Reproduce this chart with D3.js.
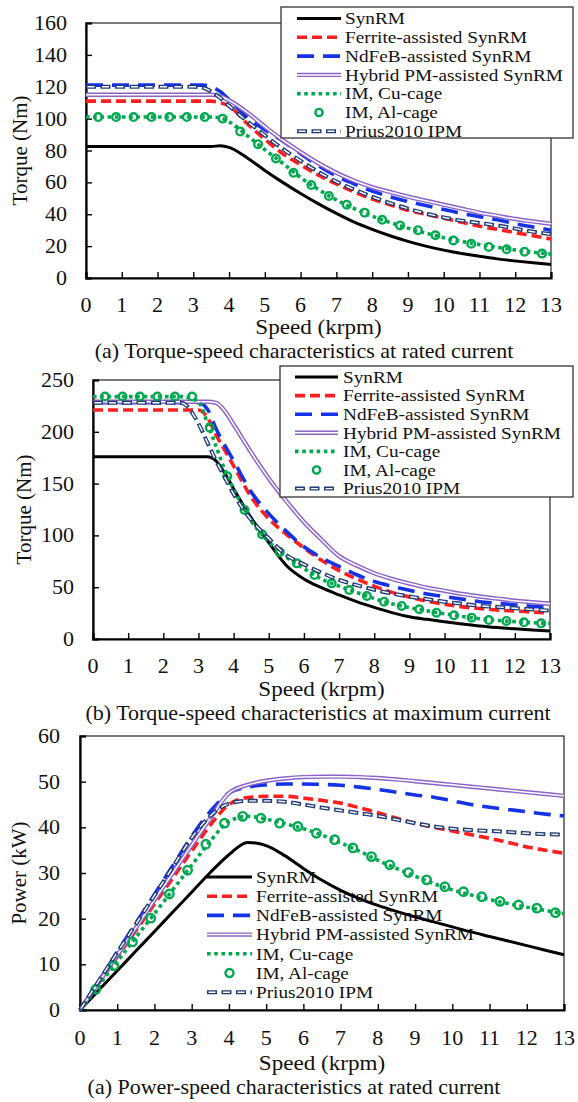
<!DOCTYPE html>
<html>
<head>
<meta charset="utf-8">
<script src="https://cdn.jsdelivr.net/npm/d3@7/dist/d3.min.js"></script>
<style>
  html, body { margin: 0; padding: 0; background: #fff; }
  svg { display: block; }
</style>
</head>
<body>
<svg id="fig" width="578" height="1102" font-family="'Liberation Serif', 'Times New Roman', serif"></svg>
<script>
// ---- data -------------------------------------------------------------
const seriesNames = ["SynRM", "Ferrite-assisted SynRM", "NdFeB-assisted SynRM",
  "Hybrid PM-assisted SynRM", "IM, Cu-cage", "IM, Al-cage", "Prius2010 IPM"];

const speedTicks = [0,1,2,3,4,5,6,7,8,9,10,11,12,13];

// speed grid (krpm) used by the torque curves
const speedT = [0,0.5,1,1.5,2,2.5,3,3.25,3.5,3.75,4,4.5,5,5.5,6,6.5,7,7.5,8,8.5,9,9.5,10,10.5,11,11.5,12,12.5,13];

// torque at rated current (Nm)
const ratedSynRM   = [82.5,82.5,82.5,82.5,82.5,82.5,82.5,82.5,82.5,83,82,75.5,67.5,60,53,46.5,40.5,35,30.5,26.5,23,20,17.5,15.4,13.6,12,10.7,9.5,8.5];
const ratedFerrite = [111,111,111,111,111,111,111,111,111,110,108,97,87,78,71,64.5,59,54,49.5,46,42.5,40,37.5,35,32.5,30.5,28.5,26.5,24.5];
const ratedNdFeB   = [121,121,121,121,121,121,121,121,120,117,112,101,93,86,78,70.5,64,59,54.5,51,48,45.5,43,40.5,38.5,36.5,34,32,30];
const ratedHybrid  = [115,115,115,115,115,115,115,115,115,114,111.5,104,95,86.5,79,72,66,61,57,54,51,48.5,46,43.5,41,39,37,35.5,34];
const ratedCu      = [101,101,101,101,101,101,101,101,101,100.5,98,89.5,80.5,72,63,55.5,49,43.5,38.8,34.8,31.3,28.2,25.3,23,21,19.3,17.6,16.2,15];
const ratedPrius   = [120,120,120,120,120,120,120,119.5,117,113,108,98.5,89.5,81,73.5,66.5,60.5,55.5,51,47,43.5,40.5,38,36,34.5,33,31,29,27.5];
// IM Al-cage points (speed, torque)
const alSpeedT   = [0.34,0.84,1.33,1.83,2.33,2.82,3.32,3.82,4.31,4.81,5.31,5.8,6.3,6.79,7.29,7.79,8.28,8.78,9.28,9.77,10.27,10.77,11.26,11.76,12.26,12.75];
const ratedAl    = [101,101,101,101,101,101,101,100,92,84,75,66,58.3,51.5,46,41,36.5,33,30,26.8,23.6,21.5,19.5,18,16.5,15.3];

// torque at maximum current (Nm)
const maxSynRM   = [176,176,176,176,176,176,176,176,172,160,145,117,93,71,58,49.5,42.5,36,30.5,25.5,21.5,19,16.7,14.5,12.5,11,9.8,8.7,7.8];
const maxFerrite = [221,221,221,221,221,221,221,214,197,182,167,137,116,101,88,76,66,58,51,45,40.5,36.5,33.5,31,29.5,28,27,26,25];
const maxNdFeB   = [228,228,228,228,228,228,228,222,203,187,172,142,121,104,89,78.5,70,62,55.5,51,47,43.5,41,38.5,36,34.5,33,31.5,30.5];
const maxHybrid  = [229,229,229,229,229,229,229,229,228,220,207,180,155,133,113,96,80,71,63.5,58,53.5,49.5,46.5,43.5,41,39,37,35.5,34];
const maxCu      = [234,234,234,234,234,234,229,209,186,163,145,114,94,79,68,58,51,45,39,34,30.3,27.2,24.3,21.8,19.6,18,16.8,15.7,15];
const maxPrius   = [228,228,228,228,228,228,208,190,172,156,140,115,97,81,72,64,57,52,47.5,44,41,38.5,36,34,32,31,29.7,28.5,27.3];
const maxAl      = [234,234,234,234,234,234,204,157,124.5,101,84,73,61.8,53.7,47.3,41.5,36,31.9,28.7,25.4,22.9,20.6,18.3,17.4,16.1,15.1];

// power at rated current (kW)
const speedP = [0,0.5,1,1.5,2,2.5,3,3.5,4,4.5,5,5.5,6,6.5,7,7.5,8,8.5,9,9.5,10,10.5,11,11.5,12,12.5,13];
const powSynRM   = [0,4.3,8.6,12.9,17.2,21.5,25.8,30.1,34,36.7,36,33.8,31,28.4,26.2,24.4,22.9,21.6,20.4,19.3,18.2,17.1,16.1,15.1,14.1,13.1,12.1];
const powFerrite = [0,5.8,11.6,17.4,23.2,29,34.8,40.5,45,46.5,46.8,46.8,46.4,45.9,45.3,44.3,43.2,42,40.9,40,39.2,38.4,37.6,36.7,35.7,35,34.3];
const powNdFeB   = [0,6.3,12.7,19,25.3,31.7,38,43.5,47.5,48.8,49.3,49.5,49.5,49.4,49.2,48.8,48.3,47.7,47.1,46.6,45.8,45,44.4,43.9,43.4,42.9,42.5];
const powHybrid  = [0,6,12,18,24.1,30.1,36.1,42,47.5,49.3,50.2,50.7,51,51.1,51.1,51,50.8,50.5,50.1,49.7,49.3,48.9,48.5,48.1,47.7,47.3,46.9];
const powCu      = [0,5.3,10.6,15.9,21.1,26.4,31.7,37,41.3,42.4,41.8,40.8,39.7,38.3,36.6,34.8,32.8,31,29.3,27.7,26.3,25.2,24.2,23.3,22.5,21.8,21.1];
const powPrius   = [0,6.3,12.6,18.8,25.1,31.4,37.7,42.5,45.2,45.8,45.8,45.6,45,44.3,43.7,43.1,42.5,41.7,40.9,40.2,39.7,39.4,39.2,39,38.7,38.5,38.4];
const alSpeedP = [0.42,0.91,1.41,1.9,2.4,2.89,3.38,3.88,4.37,4.86,5.36,5.85,6.35,6.84,7.33,7.83,8.32,8.82,9.31,9.8,10.3,10.79,11.28,11.78,12.27,12.77];
const powAl    = [4.5,9.7,14.9,20.1,25.4,30.6,36.3,40.9,42.4,42,40.9,40.2,38.7,37.3,35.5,33.6,31.8,30.1,28.5,27,25.9,24.8,23.8,23,22.3,21.3];

const torqueTicks1 = [0,20,40,60,80,100,120,140,160];
const torqueTicks2 = [0,50,100,150,200,250];
const powerTicks   = [0,10,20,30,40,50,60];

// ---- drawing ----------------------------------------------------------
const FONT = "'Liberation Serif', 'Times New Roman', serif";
const SX = 1.1;   // the figure's lettering is set slightly wide
const svg = d3.select("#fig");
const styles = ["solid","dash","longdash","double","dot","circle","dashdouble"];
const RED = "#ff1f1f", BLUE = "#1433e6", PURPLE = "#8c63c6", GREEN = "#00a94f", NAVY = "#203b78";

// horizontally widened text placed at (x, y)
function label(g, x, y, str, size, anchor, dy) {
  return g.append("text").attr("font-family", FONT).attr("fill", "#111")
    .attr("transform", `translate(${x},${y}) scale(${SX},1)`)
    .attr("text-anchor", anchor || "start").attr("dy", dy || 0)
    .attr("font-size", size).text(str);
}

function strokeLine(g, d, style) {
  const p = () => g.append("path").attr("d", d).attr("fill", "none")
    .attr("stroke-linejoin", "round");
  switch (style) {
    case "solid": p().attr("stroke", "#000").attr("stroke-width", 3); break;
    case "dash": p().attr("stroke", RED).attr("stroke-width", 3.6).attr("stroke-dasharray", "10,5"); break;
    case "longdash": p().attr("stroke", BLUE).attr("stroke-width", 3.6).attr("stroke-dasharray", "17,9"); break;
    case "double":
      p().attr("stroke", PURPLE).attr("stroke-width", 4.4);
      p().attr("stroke", "#fff").attr("stroke-width", 1.5); break;
    case "dot": p().attr("stroke", GREEN).attr("stroke-width", 3.6).attr("stroke-dasharray", "3.6,3.6"); break;
    case "dashdouble":
      p().attr("stroke", NAVY).attr("stroke-width", 4).attr("stroke-dasharray", "10,4.5");
      p().attr("stroke", "#fff").attr("stroke-width", 1.4).attr("stroke-dasharray", "7,7.5").attr("stroke-dashoffset", -1.5); break;
  }
}

function circles(g, pts, x, y, r) {
  g.selectAll(null).data(pts).join("circle")
    .attr("cx", d => x(d[0])).attr("cy", d => y(d[1])).attr("r", r)
    .attr("fill", "none").attr("stroke", GREEN).attr("stroke-width", 2.4);
}

function legend(g, x0, x1, tx, y0, dy, r) {
  seriesNames.forEach((name, i) => {
    const yy = y0 + i * dy;
    const st = styles[i];
    if (st === "circle") {
      g.append("circle").attr("cx", (x0 + x1) / 2).attr("cy", yy).attr("r", r)
        .attr("fill", "none").attr("stroke", GREEN).attr("stroke-width", 2.4);
    } else {
      strokeLine(g, `M${x0},${yy}H${x1}`, st);
    }
    label(g, tx, yy, name, 17.5, "start", "0.33em");
  });
}

function panel(cfg) {
  const g = svg.append("g");
  const x = d3.scaleLinear().domain([0, 13]).range([cfg.left, cfg.right]);
  const y = d3.scaleLinear().domain([0, cfg.ymax]).range([cfg.bottom, cfg.top]);

  // frame
  g.append("rect").attr("x", cfg.left).attr("y", cfg.top)
    .attr("width", cfg.right - cfg.left).attr("height", cfg.bottom - cfg.top)
    .attr("fill", "none").attr("stroke", "#222").attr("stroke-width", 1.2);

  // axes with inward ticks
  const xa = g.append("g").attr("transform", `translate(0,${cfg.bottom})`)
    .call(d3.axisBottom(x).tickValues(speedTicks).tickSize(-6).tickFormat(""));
  const ya = g.append("g").attr("transform", `translate(${cfg.left},0)`)
    .call(d3.axisLeft(y).tickValues(cfg.yticks).tickSize(-6).tickFormat(""));
  [xa, ya].forEach(a => {
    a.select(".domain").attr("stroke", "#000").attr("stroke-width", 2.2);
    a.selectAll(".tick line").attr("stroke", "#000").attr("stroke-width", 1.4);
  });

  speedTicks.forEach(d => label(g, x(d), cfg.bottom + cfg.xlabOff, d, 20, "middle"));
  cfg.yticks.forEach(d => label(g, cfg.left - cfg.ylabGap, y(d), d, 20, "end", "0.35em"));

  label(g, (cfg.left + cfg.right) / 2, cfg.bottom + cfg.xtitleOff, "Speed (krpm)", 21, "middle");
  g.append("text").attr("font-family", FONT).attr("fill", "#111")
    .attr("transform", `translate(${cfg.ytitleX},${(cfg.top + cfg.bottom) / 2}) rotate(-90)`)
    .attr("text-anchor", "middle").attr("dy", "0.35em").attr("font-size", 21).text(cfg.ytitle);
  label(g, cfg.capX, cfg.bottom + cfg.capOff, cfg.caption, 20, "middle");

  return { g, x, y };
}

// curves drawn in order: Al circles sit above the Cu dots, Prius on top
function drawPanel(p, xs, vals, alXs, alYs, r) {
  const line = d3.line().x((d, i) => p.x(xs[i])).y(d => p.y(d)).curve(d3.curveMonotoneX);
  const lg = p.g.append("g");
  [0,1,2,3,4].forEach(i => strokeLine(lg, line(vals[i]), styles[i]));
  circles(lg, alXs.map((s, i) => [s, alYs[i]]), p.x, p.y, r);
  strokeLine(lg, line(vals[6]), styles[6]);
}

// (a) torque at rated current
const p1 = panel({ left: 86, right: 551, top: 23, bottom: 278, ymax: 160, yticks: torqueTicks1,
  xlabOff: 34, xtitleOff: 56, capOff: 80, ylabGap: 19, ytitleX: 20, ytitle: "Torque (Nm)",
  capX: 304, caption: "(a) Torque-speed characteristics at rated current" });
drawPanel(p1, speedT, [ratedSynRM, ratedFerrite, ratedNdFeB, ratedHybrid, ratedCu, null, ratedPrius], alSpeedT, ratedAl, 3.8);
const lg1 = svg.append("g");
lg1.append("rect").attr("x", 281).attr("y", 7).attr("width", 292).attr("height", 131)
  .attr("fill", "#fff").attr("stroke", "#333").attr("stroke-width", 1.3);
legend(lg1, 297, 341, 345, 18.5, 18.8, 3.6);

// (b) torque at maximum current
const p2 = panel({ left: 93, right: 550, top: 380, bottom: 639, ymax: 250, yticks: torqueTicks2,
  xlabOff: 34, xtitleOff: 57, capOff: 81, ylabGap: 19, ytitleX: 24, ytitle: "Torque (Nm)",
  capX: 318, caption: "(b) Torque-speed characteristics at maximum current" });
drawPanel(p2, speedT, [maxSynRM, maxFerrite, maxNdFeB, maxHybrid, maxCu, null, maxPrius], alSpeedT, maxAl, 3.8);
const lg2 = svg.append("g");
lg2.append("rect").attr("x", 280).attr("y", 366).attr("width", 293).attr("height", 131)
  .attr("fill", "#fff").attr("stroke", "#333").attr("stroke-width", 1.3);
legend(lg2, 295, 338, 343, 377, 18.6, 3.6);

// (a) power at rated current: legend sits inside the plot, under the curves
const p3 = panel({ left: 80, right: 564, top: 736, bottom: 1010, ymax: 60, yticks: powerTicks,
  xlabOff: 35, xtitleOff: 60, capOff: 84, ylabGap: 20, ytitleX: 19, ytitle: "Power (kW)",
  capX: 294, caption: "(a) Power-speed characteristics at rated current" });
const lg3 = p3.g.append("g");
legend(lg3, 207, 252, 256, 877, 19.2, 4);
drawPanel(p3, speedP, [powSynRM, powFerrite, powNdFeB, powHybrid, powCu, null, powPrius], alSpeedP, powAl, 4.2);
</script>
</body>
</html>
